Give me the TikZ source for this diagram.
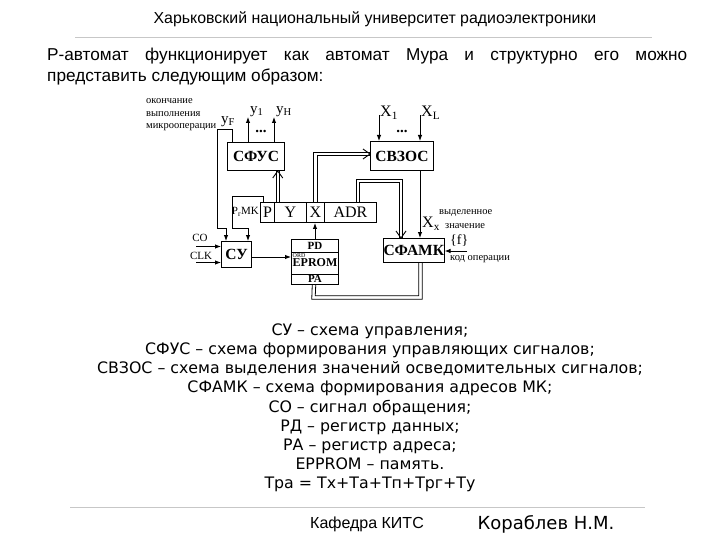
\documentclass[tikz,border=0pt]{standalone}
\usepackage{fontspec}
\setmainfont{Liberation Serif}
\newfontfamily\hdrfont{Liberation Sans}
\newfontfamily\bodyfont{DejaVu Sans}
\usetikzlibrary{arrows.meta}
\begin{document}
\begin{tikzpicture}[x=1pt,y=-1pt,
  blk/.style={draw, line width=1pt, inner sep=0pt, anchor=north west, font=\fontsize{15.5}{15.5}\selectfont\bfseries},
  cell/.style={draw, line width=1pt, inner sep=0pt, anchor=north west, minimum height=20pt, font=\fontsize{16}{16}\selectfont},
  rom/.style={draw, line width=1pt, inner sep=0pt, anchor=north west, minimum width=47pt, font=\fontsize{11}{11}\selectfont\bfseries},
  sarr/.style={-{Latex[length=6pt,width=4.5pt]}, line width=0.9pt},
  busline/.style={line width=0.8pt},
  chev/.style={line width=0.9pt, line join=miter},
  sig/.style={inner sep=0pt, font=\fontsize{15}{15}\selectfont},
  small/.style={inner sep=0pt, anchor=west, font=\fontsize{10.5}{10.5}\selectfont},
  body/.style={inner sep=0pt, anchor=base, font=\bodyfont\fontsize{15.8}{15.8}\selectfont},
  rule/.style={draw=black!22, line width=1pt}
]
\useasboundingbox (0,0) rectangle (720,540);

% header
\node[inner sep=0pt, font=\hdrfont\fontsize{15.9}{15.9}\selectfont] (hdr) at (375,19) {Харьковский национальный университет радиоэлектроники};
\coordinate (r1a) at (75,38); \coordinate (r1b) at (652,38);
\draw[rule] (r1a) -- (r1b);
\node[inner sep=0pt, anchor=north west, text width=640pt, align=justify, font=\hdrfont\fontsize{17.2}{21}\selectfont] (para) at (47,48)
  {Р-автомат функционирует как автомат Мура и структурно его можно\linebreak представить следующим образом:};

% blocks
\node[blk, minimum width=57pt, minimum height=28pt] (sfus) at (227,142) {СФУС};
\node[blk, minimum width=63pt, minimum height=29pt] (svzos) at (370,141) {СВЗОС};
\node[blk, minimum width=59pt, minimum height=24pt] (sfamk) at (383,238) {СФАМК};
\node[blk, minimum width=30pt, minimum height=26pt] (su) at (221,241) {СУ};

\node[cell, minimum width=14pt] (cP) at (260,202) {P};
\node[cell, minimum width=32pt] (cY) at (274,202) {Y};
\node[cell, minimum width=18pt] (cX) at (306,202) {X};
\node[cell, minimum width=52pt] (cADR) at (324,202) {ADR};

\node[rom, minimum height=12.5pt] (pd) at (291,239) {PD};
\node[rom, minimum height=22pt, font=\fontsize{12}{12}\selectfont\bfseries] (mem) at (291,251.5) {\raisebox{-3pt}{EPROM}};
\node[rom, minimum height=10.5pt] (pa) at (291,273.5) {PA};
\node[inner sep=0pt, anchor=north west, font=\fontsize{6}{6}\selectfont] (ord) at (292.5,253) {ORD};

% labels
\node[small] (l1) at (146,101) {окончание};
\node[small] (l2) at (146,114) {выполнения};
\node[small] (l3) at (146,127) {микрооперации};
\node[sig, anchor=west] (lyF) at (221,122) {y\textsubscript{F}};
\node[sig, anchor=west] (ly1) at (250,112) {y\textsubscript{1}};
\node[sig, anchor=west] (lyH) at (276,112) {y\textsubscript{H}};
\node[inner sep=0pt, font=\fontsize{15}{15}\selectfont\bfseries] (dots1) at (261,131) {...};
\node[sig, anchor=west, font=\fontsize{16}{16}\selectfont] (lx1) at (380,113) {X\textsubscript{1}};
\node[sig, anchor=west, font=\fontsize{16}{16}\selectfont] (lxL) at (421,113) {X\textsubscript{L}};
\node[inner sep=0pt, font=\fontsize{15}{15}\selectfont\bfseries] (dots2) at (402,131) {...};
\node[sig, anchor=west, font=\fontsize{16}{16}\selectfont] (lxx) at (422,224) {X\textsubscript{x}};
\node[small] (l4) at (439,213) {выделенное};
\node[small] (l5) at (445,226) {значение};
\node[sig, anchor=west, font=\fontsize{14}{14}\selectfont] (lf) at (450,241) {\{f\}};
\node[small] (l6) at (450,259) {код операции};
\node[inner sep=0pt, anchor=east, font=\fontsize{11}{11}\selectfont] (lpmk) at (259,212) {P\textsubscript{r}MK};
\node[inner sep=0pt, font=\fontsize{11}{11}\selectfont] (lco) at (200,238) {CO};
\node[inner sep=0pt, font=\fontsize{11}{11}\selectfont] (lclk) at (201,256) {CLK};

% single connectors
\coordinate (y1t) at (248,117);
\coordinate (yHt) at (274,117);
\draw[sarr] (y1t |- sfus.north) -- (y1t);
\draw[sarr] (yHt |- sfus.north) -- (yHt);
\draw[sarr] ([xshift=5pt]sfus.north west) -- ++(0,-13) -- ++(-15,0) -- ++(0,99) -| ([xshift=5pt]su.north west);
\draw[sarr] ([xshift=3pt]cP.north west) -- ++(0,-6) -- ++(-31,0) -- ++(0,32) -| ([xshift=27pt]su.north west);
\coordinate (x1t) at (379,115);
\coordinate (xLt) at (420,115);
\draw[sarr] (x1t) -- (x1t |- svzos.north);
\draw[sarr] (xLt) -- (xLt |- svzos.north);
\draw[sarr] ([xshift=50pt]svzos.south west) -- ([xshift=50pt]svzos.south west |- sfamk.north);
\coordinate (fin) at (467,251);
\draw[sarr] (fin) -- (fin -| sfamk.east);
\draw[sarr] (pd.north) -- (pd.north |- cX.south);
\draw[sarr] ([yshift=-2.5pt]su.east) -- ([yshift=-2.5pt]su.east -| pd.west);
\coordinate (coin) at (196,246.5);
\coordinate (clkin) at (196,262.5);
\draw[sarr] (coin) -- (coin -| su.west);
\draw[sarr] (clkin) -- (clkin -| su.west);

% bus Y -> SFUS
\draw[busline] ([xshift=2pt]cY.north west) -- ([xshift=2pt]cY.north west |- sfus.south);
\draw[busline] ([xshift=5.5pt]cY.north west) -- ([xshift=5.5pt]cY.north west |- sfus.south);
\draw[chev] ([xshift=-1.25pt,yshift=-7pt]cY.north west |- sfus.south) -- ([xshift=3.75pt]cY.north west |- sfus.south) -- ([xshift=8.75pt,yshift=-7pt]cY.north west |- sfus.south);

% bus X -> SVZOS
\draw[busline] ([xshift=-1.75pt]cX.north) |- ([yshift=3.75pt]svzos.west);
\draw[busline] ([xshift=1.75pt]cX.north) |- ([yshift=0.25pt]svzos.west);
\draw[chev] ([xshift=-7pt,yshift=7pt]svzos.west) -- ([yshift=2pt]svzos.west) -- ([xshift=-7pt,yshift=-3pt]svzos.west);

% bus ADR -> SFAMK
\draw[busline] ([xshift=32.25pt]cADR.north west) |- (402.75,179.25) -- ([xshift=19.75pt]sfamk.north west);
\draw[busline] ([xshift=35.75pt]cADR.north west) |- (399.25,182.75) -- ([xshift=16.25pt]sfamk.north west);
\draw[chev] ([xshift=13pt,yshift=7pt]sfamk.north west) -- ([xshift=18pt]sfamk.north west) -- ([xshift=23pt,yshift=7pt]sfamk.north west);

% bus SFAMK -> PA
\draw[busline] ([xshift=39.25pt]sfamk.south west) |- (311.75,299.25) -- ([xshift=-2.75pt]pa.south);
\draw[busline] ([xshift=35.75pt]sfamk.south west) |- (315.25,295.75) -- ([xshift=0.75pt]pa.south);

% legend
\node[body] (t1) at (370,335.5) {СУ – схема управления;};
\node[body] (t2) at (370,354.5) {СФУС – схема формирования управляющих сигналов;};
\node[body] (t3) at (370,373.5) {СВЗОС – схема выделения значений осведомительных сигналов;};
\node[body] (t4) at (370,392.5) {СФАМК – схема формирования адресов МК;};
\node[body] (t5) at (370,412) {СО – сигнал обращения;};
\node[body] (t6) at (370,431) {РД – регистр данных;};
\node[body] (t7) at (370,450) {РА – регистр адреса;};
\node[body] (t8) at (370,469) {EPPROM – память.};
\node[body] (t9) at (370,488) {Тра = Тх+Та+Тп+Трг+Ту};

% footer
\coordinate (r2a) at (70,507); \coordinate (r2b) at (645,507);
\draw[rule] (r2a) -- (r2b);
\node[inner sep=0pt, font=\hdrfont\fontsize{16}{16}\selectfont] (kaf) at (367,524) {Кафедра КИТС};
\node[inner sep=0pt, font=\bodyfont\fontsize{18}{18}\selectfont] (auth) at (546,524) {Кораблев Н.М.};
\end{tikzpicture}
\end{document}
